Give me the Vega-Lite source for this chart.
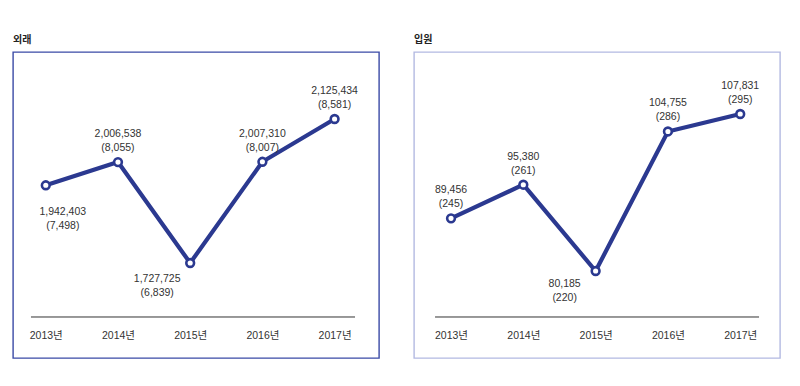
{
  "$schema": "https://vega.github.io/schema/vega-lite/v6.json",
  "padding": {"left": 12, "top": 34, "right": 0, "bottom": 0},
  "background": "white",
  "config": {
    "font": "Liberation Sans, Noto Sans CJK KR",
    "axis": {"labelFont": "Liberation Sans, Noto Sans CJK KR"}
  },
  "datasets": {
    "out": [
      {"year": 2013, "value": 1942403, "sub": 7498},
      {"year": 2014, "value": 2006538, "sub": 8055},
      {"year": 2015, "value": 1727725, "sub": 6839},
      {"year": 2016, "value": 2007310, "sub": 8007},
      {"year": 2017, "value": 2125434, "sub": 8581}
    ],
    "inp": [
      {"year": 2013, "value": 89456, "sub": 245},
      {"year": 2014, "value": 95380, "sub": 261},
      {"year": 2015, "value": 80185, "sub": 220},
      {"year": 2016, "value": 104755, "sub": 286},
      {"year": 2017, "value": 107831, "sub": 295}
    ]
  },
  "spacing": 33,
  "hconcat": [
    {
      "title": {"text": "외래", "anchor": "start", "fontSize": 10, "fontWeight": "bold", "font": "Noto Sans CJK KR", "color": "#222222", "offset": 7},
      "width": 366,
      "height": 306,
      "view": {"stroke": "#3a4aa6", "strokeWidth": 1.4},
      "data": {"name": "out"},
      "transform": [
        {"calculate": "format(datum.value, ',') + '\\n(' + format(datum.sub, ',') + ')'", "as": "label"}
      ],
      "encoding": {
        "x": {"field": "year", "type": "quantitative",
          "scale": {"domain": [2012.546, 2017.615], "nice": false, "zero": false},
          "axis": {"values": [2013, 2014, 2015, 2016, 2017], "format": "d", "labelExpr": "datum.label + '년'",
            "offset": -23, "domain": false, "ticks": false, "grid": false, "labelPadding": 0, "labelBaseline": "middle",
            "labelFontSize": 10.5, "labelColor": "#333333", "title": null}},
        "y": {"field": "value", "type": "quantitative",
          "scale": {"domain": [1465294, 2310598], "nice": false, "zero": false}, "axis": null}
      },
      "layer": [
        {
          "transform": [{"filter": "datum.year == 2013"}],
          "mark": {"type": "rule", "color": "#333333", "strokeWidth": 1},
          "encoding": {
            "x": {"datum": 2012.795, "type": "quantitative"},
            "x2": {"datum": 2017.283},
            "y": {"datum": 1578583, "type": "quantitative"}
          }
        },
        {"mark": {"type": "line", "color": "#2b3990", "strokeWidth": 4.2}},
        {"mark": {"type": "circle", "size": 60, "fill": "white", "stroke": "#2b3990", "strokeWidth": 2.6, "opacity": 1}},
        {
          "transform": [{"filter": "datum.year != 2013 && datum.year != 2015"}],
          "mark": {"type": "text", "lineBreak": "\n", "lineHeight": 14, "fontSize": 10.5, "color": "#333333", "baseline": "middle", "align": "center", "dy": -28},
          "encoding": {"text": {"field": "label"}}
        },
        {
          "transform": [{"filter": "datum.year == 2013"}],
          "mark": {"type": "text", "lineBreak": "\n", "lineHeight": 14, "fontSize": 10.5, "color": "#333333", "baseline": "middle", "align": "center", "dx": 17, "dy": 27},
          "encoding": {"text": {"field": "label"}}
        },
        {
          "transform": [{"filter": "datum.year == 2015"}],
          "mark": {"type": "text", "lineBreak": "\n", "lineHeight": 14, "fontSize": 10.5, "color": "#333333", "baseline": "middle", "align": "center", "dx": -33, "dy": 16},
          "encoding": {"text": {"field": "label"}}
        }
      ]
    },
    {
      "title": {"text": "입원", "anchor": "start", "fontSize": 10, "fontWeight": "bold", "font": "Noto Sans CJK KR", "color": "#222222", "offset": 7},
      "width": 366,
      "height": 306,
      "view": {"stroke": "#b3b9e2", "strokeWidth": 1.4},
      "data": {"name": "inp"},
      "transform": [
        {"calculate": "format(datum.value, ',') + '\\n(' + format(datum.sub, ',') + ')'", "as": "label"}
      ],
      "encoding": {
        "x": {"field": "year", "type": "quantitative",
          "scale": {"domain": [2012.488, 2017.55], "nice": false, "zero": false},
          "axis": {"values": [2013, 2014, 2015, 2016, 2017], "format": "d", "labelExpr": "datum.label + '년'",
            "offset": -23, "domain": false, "ticks": false, "grid": false, "labelPadding": 0, "labelBaseline": "middle",
            "labelFontSize": 10.5, "labelColor": "#333333", "title": null}},
        "y": {"field": "value", "type": "quantitative",
          "scale": {"domain": [64865, 118748], "nice": false, "zero": false}, "axis": null}
      },
      "layer": [
        {
          "transform": [{"filter": "datum.year == 2013"}],
          "mark": {"type": "rule", "color": "#333333", "strokeWidth": 1},
          "encoding": {
            "x": {"datum": 2012.779, "type": "quantitative"},
            "x2": {"datum": 2017.26},
            "y": {"datum": 72085, "type": "quantitative"}
          }
        },
        {"mark": {"type": "line", "color": "#2b3990", "strokeWidth": 4.2}},
        {"mark": {"type": "circle", "size": 60, "fill": "white", "stroke": "#2b3990", "strokeWidth": 2.6, "opacity": 1}},
        {
          "transform": [{"filter": "datum.year != 2015"}],
          "mark": {"type": "text", "lineBreak": "\n", "lineHeight": 14, "fontSize": 10.5, "color": "#333333", "baseline": "middle", "align": "center", "dy": -28},
          "encoding": {"text": {"field": "label"}}
        },
        {
          "transform": [{"filter": "datum.year == 2015"}],
          "mark": {"type": "text", "lineBreak": "\n", "lineHeight": 14, "fontSize": 10.5, "color": "#333333", "baseline": "middle", "align": "center", "dx": -31, "dy": 13},
          "encoding": {"text": {"field": "label"}}
        }
      ]
    }
  ]
}
